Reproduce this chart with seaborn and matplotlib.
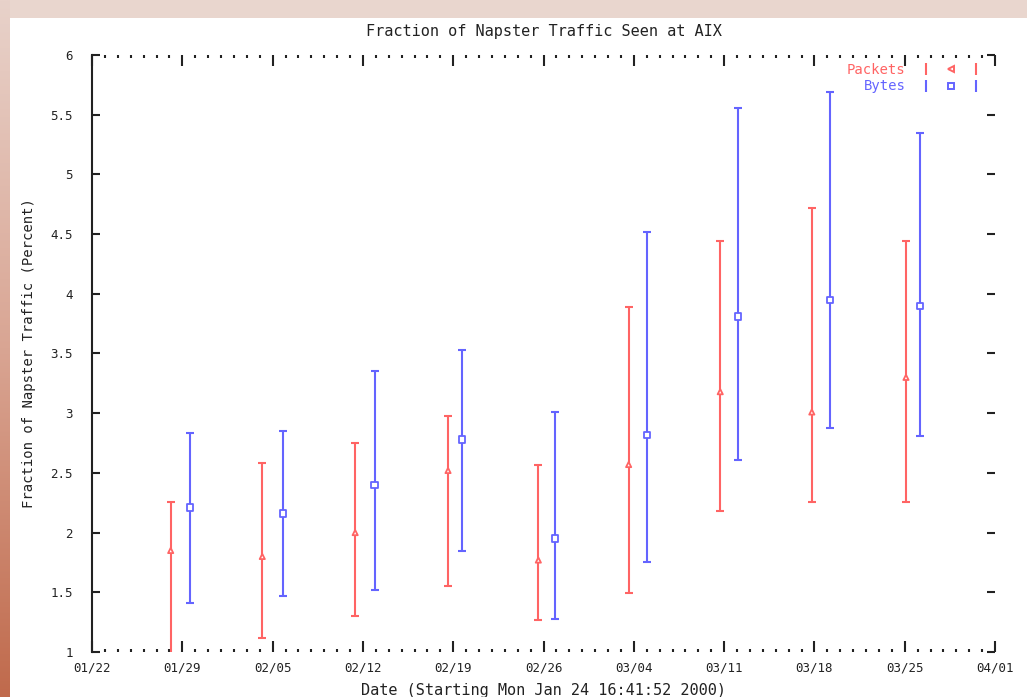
import numpy as np
import pandas as pd
import matplotlib
matplotlib.use("Agg")
import matplotlib.pyplot as plt
import seaborn as sns
from matplotlib.lines import Line2D
from matplotlib.legend_handler import HandlerTuple
from matplotlib.patches import Rectangle

# ---- data (days since Sat 01/22/2000) ----
tick_days = [0, 7, 14, 21, 28, 35, 42, 49, 56, 63, 70]
tick_labels = ["01/22", "01/29", "02/05", "02/12", "02/19", "02/26",
               "03/04", "03/11", "03/18", "03/25", "04/01"]

pkt_day = [6.1, 13.2, 20.4, 27.6, 34.6, 41.6, 48.7, 55.8, 63.1]
pkt_mid = [1.85, 1.80, 2.00, 2.52, 1.77, 2.57, 3.18, 3.01, 3.30]
pkt_low = [0.97, 1.12, 1.30, 1.55, 1.27, 1.49, 2.18, 2.26, 2.26]
pkt_high = [2.26, 2.58, 2.75, 2.98, 2.57, 3.89, 4.44, 4.72, 4.44]

byte_day = [7.6, 14.8, 21.9, 28.7, 35.9, 43.0, 50.1, 57.2, 64.2]
byte_mid = [2.21, 2.16, 2.40, 2.78, 1.95, 2.82, 3.81, 3.95, 3.90]
byte_low = [1.41, 1.47, 1.52, 1.85, 1.28, 1.75, 2.61, 2.88, 2.81]
byte_high = [2.83, 2.85, 3.35, 3.53, 3.01, 4.52, 5.56, 5.69, 5.35]

RED = "#ff6464"
BLUE = "#6464ff"
INK = "#222222"

df = pd.concat([
    pd.DataFrame({"day": pkt_day, "pct": pkt_mid, "lo": pkt_low,
                  "hi": pkt_high, "series": "Packets"}),
    pd.DataFrame({"day": byte_day, "pct": byte_mid, "lo": byte_low,
                  "hi": byte_high, "series": "Bytes"}),
], ignore_index=True)

sns.set_theme(style="white")
plt.rcParams["font.family"] = ["DejaVu Sans Mono", "DejaVu Sans"]

fig = plt.figure(figsize=(10.27, 6.97), dpi=100)
fig.patch.set_facecolor("#e9d6ce")

# left strip gradient + white page area (screenshot framing)
strip = fig.add_axes([0, 0, 10 / 1027, 1])
grad = np.linspace(0, 1, 256).reshape(-1, 1)
cmap = matplotlib.colors.LinearSegmentedColormap.from_list(
    "edge", ["#e8d2ca", "#d9a593", "#c06a4c"])
strip.imshow(grad, aspect="auto", cmap=cmap)
strip.set_axis_off()
fig.patches.append(Rectangle((10 / 1027, 0), 1, (697 - 18) / 697,
                             transform=fig.transFigure, facecolor="white",
                             edgecolor="none", zorder=-10))

ax = fig.add_axes([92 / 1027, 1 - 652 / 697, (995 - 92) / 1027, (652 - 55) / 697])
ax.set_facecolor("none")

styles = {"Packets": (RED, "^"), "Bytes": (BLUE, "s")}
for name, grp in df.groupby("series", sort=False):
    color, mk = styles[name]
    ax.errorbar(grp["day"], grp["pct"],
                yerr=[grp["pct"] - grp["lo"], grp["hi"] - grp["pct"]],
                fmt="none", ecolor=color, elinewidth=1.5, capsize=3,
                capthick=1.5)

sns.scatterplot(data=df, x="day", y="pct", hue="series", style="series",
                palette={"Packets": RED, "Bytes": BLUE},
                markers={"Packets": "^", "Bytes": "s"},
                size="series", sizes={"Packets": 14, "Bytes": 20},
                linewidth=1.3, legend=False, ax=ax, zorder=3)
for coll in ax.collections[-1:]:
    ec = coll.get_facecolor()
    coll.set_edgecolor(ec)
    coll.set_facecolor("white")

ax.set_xlim(0, 70)
ax.set_ylim(1, 6)
ax.set_xticks(tick_days)
ax.set_xticklabels(tick_labels)
ax.set_xticks(np.arange(0, 71, 1), minor=True)
ax.set_yticks(np.arange(1, 6.01, 0.5))
ax.set_yticklabels(["1", "1.5", "2", "2.5", "3", "3.5", "4", "4.5", "5", "5.5", "6"])

for side in ["top", "right", "bottom"]:
    ax.spines[side].set_visible(False)
ax.spines["left"].set_color(INK)
ax.spines["left"].set_linewidth(1.5)

ax.tick_params(axis="both", which="both", direction="in", colors=INK,
               top=True, right=True, bottom=True, left=True)
ax.tick_params(axis="x", which="major", length=8, width=1.5, pad=7,
               labelsize=9, labelcolor=INK)
ax.tick_params(axis="x", which="minor", length=2.5, width=1.5)
ax.tick_params(axis="y", which="major", length=6, width=1.5, pad=14,
               labelsize=9, labelcolor=INK)

ax.set_title("Fraction of Napster Traffic Seen at AIX", fontsize=11,
             color=INK, pad=14)
ax.set_xlabel("Date (Starting Mon Jan 24 16:41:52 2000)", fontsize=11,
              color=INK, labelpad=6)
ax.set_ylabel("Fraction of Napster Traffic (Percent)", fontsize=10,
              color=INK, labelpad=10)

def sample(color, mk):
    cap = dict(color=color, marker="|", linestyle="none", markersize=8,
               markeredgewidth=1.5)
    return (Line2D([], [], **cap),
            Line2D([], [], color=color, marker=mk, linestyle="none",
                   markersize=5, markerfacecolor="none", markeredgewidth=1.4),
            Line2D([], [], **cap))

leg = ax.legend([sample(RED, "<"), sample(BLUE, "s")], ["Packets", "Bytes"],
                handler_map={tuple: HandlerTuple(ndivide=None, pad=1.2)},
                loc="upper right", bbox_to_anchor=(0.993, 1.0), frameon=False,
                markerfirst=False, fontsize=10, handlelength=4.2,
                handletextpad=1.2, labelspacing=0.15, borderaxespad=0.2)
for txt, c in zip(leg.get_texts(), [RED, BLUE]):
    txt.set_color(c)

fig.savefig("out.png", dpi=100, facecolor=fig.get_facecolor())
